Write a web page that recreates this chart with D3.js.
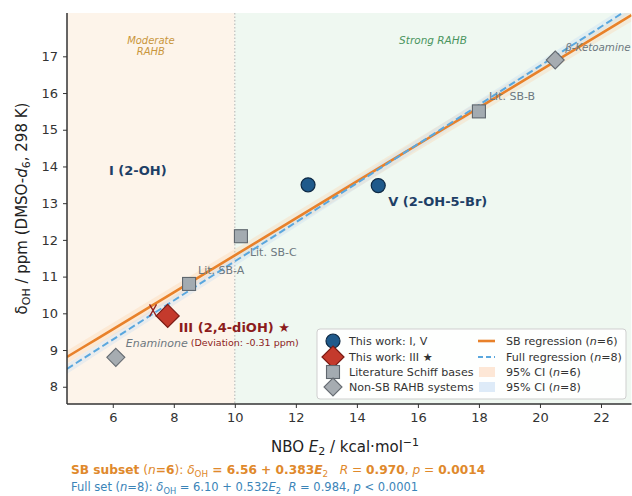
<!DOCTYPE html>
<html><head><meta charset="utf-8">
<script src="https://cdn.jsdelivr.net/npm/d3@7"></script>
<style>
body{margin:0;background:#fff;}
svg{display:block;font-family:"DejaVu Sans",sans-serif;}
</style></head>
<body><svg id="c" width="632" height="496"></svg>
<script>
// ---- data ----
const thisWorkIV = [ {name:"I (2-OH)", x:12.4, y:13.5}, {name:"V (2-OH-5-Br)", x:14.7, y:13.48} ];
const thisWorkIII = [ {name:"III (2,4-diOH) ★", x:7.8, y:9.93} ];
const litSchiff = [ {name:"Lit. SB-A", x:8.5, y:10.8}, {name:"Lit. SB-C", x:10.2, y:12.1}, {name:"Lit. SB-B", x:18.0, y:15.5} ];
const nonSB = [ {name:"Enaminone", x:6.1, y:8.8}, {name:"β-Ketoamine", x:20.5, y:16.9} ];
const predictedMark = [ {x:7.32, y:10.08} ];
const ciHalfWidth = [0.17, 0.13]; // ppm, SB and full (estimated from band)
const xTicks = [6,8,10,12,14,16,18,20,22];
const yTicks = [8,9,10,11,12,13,14,15,16,17];
const regionBoundary = 10;

// ---- layout ----
const svg = d3.select("#c");
const L=67, R=631.5, T=13, B=404;
const x = d3.scaleLinear().domain([4.5,23]).range([L,R]);
const y = d3.scaleLinear().domain([7.53,18.18]).range([B,T]);

function fit(pts){
  const mx=d3.mean(pts,d=>d.x), my=d3.mean(pts,d=>d.y);
  let sxy=0,sxx=0; pts.forEach(d=>{sxy+=(d.x-mx)*(d.y-my); sxx+=(d.x-mx)**2;});
  const b=sxy/sxx; return {a:my-b*mx,b};
}
const sbFit = fit([...thisWorkIV,...thisWorkIII,...litSchiff]);
const fullFit = fit([...thisWorkIV,...thisWorkIII,...litSchiff,...nonSB]);

svg.append("clipPath").attr("id","clip").append("rect").attr("x",L).attr("y",T).attr("width",R-L).attr("height",B-T);
const g = svg.append("g").attr("clip-path","url(#clip)");
g.append("rect").attr("x",L).attr("y",T).attr("width",x(regionBoundary)-L).attr("height",B-T).attr("fill","#fdf4ea");
g.append("rect").attr("x",x(regionBoundary)).attr("y",T).attr("width",R-x(regionBoundary)).attr("height",B-T).attr("fill","#eff8f1");
g.append("line").attr("x1",x(regionBoundary)).attr("x2",x(regionBoundary)).attr("y1",T).attr("y2",B)
  .attr("stroke","#aaa").attr("stroke-width",0.9).attr("stroke-dasharray","1.5,2");

const xs = d3.range(4.5,23.01,0.5);
function band(f,h,color){
  g.append("path").datum(xs).attr("fill",color).attr("opacity",0.35)
   .attr("d",d3.area().x(d=>x(d)).y0(d=>y(f.a+f.b*d-h)).y1(d=>y(f.a+f.b*d+h)));
}
band(sbFit,ciHalfWidth[0],"#fbd3ad");
band(fullFit,ciHalfWidth[1],"#c6def3");
const line = f => d3.line().x(d=>x(d)).y(d=>y(f.a+f.b*d));
g.append("path").datum(xs).attr("d",line(sbFit)).attr("fill","none").attr("stroke","#e8812a").attr("stroke-width",2.6);
g.append("path").datum(xs).attr("d",line(fullFit)).attr("fill","none").attr("stroke","#5aa7de").attr("stroke-width",2).attr("stroke-dasharray","7,3.5");

// region labels
g.append("text").attr("x",(L+x(regionBoundary))/2).attr("y",44).attr("text-anchor","middle").attr("font-size",10).attr("font-style","italic").attr("fill","#c9963c").text("Moderate");
g.append("text").attr("x",(L+x(regionBoundary))/2).attr("y",55).attr("text-anchor","middle").attr("font-size",10).attr("font-style","italic").attr("fill","#c9963c").text("RAHB");
g.append("text").attr("x",433).attr("y",44).attr("text-anchor","middle").attr("font-size",10.5).attr("font-style","italic").attr("fill","#4a9560").text("Strong RAHB");

// markers
const diamond = s => `M0,${-s}L${s},0L0,${s}L${-s},0Z`;
g.selectAll(".sq").data(litSchiff).join("rect").attr("x",d=>x(d.x)-6.5).attr("y",d=>y(d.y)-6.5).attr("width",13).attr("height",13)
  .attr("fill","#a3abb1").attr("stroke","#5f676e").attr("stroke-width",1.1);
g.selectAll(".nd").data(nonSB).join("path").attr("transform",d=>`translate(${x(d.x)},${y(d.y)})`).attr("d",diamond(9))
  .attr("fill","#a6acb1").attr("stroke","#666c72").attr("stroke-width",1.1);
g.selectAll(".ci").data(thisWorkIV).join("circle").attr("cx",d=>x(d.x)).attr("cy",d=>y(d.y)).attr("r",7)
  .attr("fill","#1f5a8b").attr("stroke","#0e2a45").attr("stroke-width",1.2);
g.selectAll(".pm").data(predictedMark).join("path").attr("transform",d=>`translate(${x(d.x)},${y(d.y)})`)
  .attr("d","M-3.5,-6L3.5,6M3.5,-6L-3.5,6").attr("stroke","#8f2020").attr("stroke-width",1.3).attr("fill","none");
g.selectAll(".rd").data(thisWorkIII).join("path").attr("transform",d=>`translate(${x(d.x)},${y(d.y)})`).attr("d",diamond(11.5))
  .attr("fill","#c43a2c").attr("stroke","#7a1b14").attr("stroke-width",1.2);

// point labels
function lab(d,dx,dy,opt){
  const t=g.append("text").attr("x",x(d.x)+dx).attr("y",y(d.y)+dy).attr("dominant-baseline","central")
   .attr("font-size",opt.size).attr("fill",opt.color).text(opt.text||d.name);
  if(opt.bold) t.attr("font-weight","bold");
  if(opt.italic) t.attr("font-style","italic");
}
const gray="#6d7880";
lab(litSchiff[0],9,-13,{size:11,color:gray});
lab(litSchiff[1],9,16,{size:11,color:gray});
lab(litSchiff[2],10,-15,{size:11,color:gray});
lab(nonSB[0],10,-14,{size:11,color:gray,italic:true});
lab(nonSB[1],10,-13,{size:10.3,color:gray,italic:true});
svg.append("text").attr("x",109).attr("y",170).attr("dominant-baseline","central").attr("font-size",13).attr("font-weight","bold").attr("fill","#1d3f66").text(thisWorkIV[0].name);
lab(thisWorkIV[1],10,16,{size:13,color:"#1d3f66",bold:true});
lab(thisWorkIII[0],11,12,{size:13,color:"#8c1c1c",bold:true});
lab(thisWorkIII[0],23,27,{size:9.5,color:"#8c1c1c",text:"(Deviation: -0.31 ppm)"});

// axes
const ax = svg.append("g").attr("transform",`translate(0,${B})`).call(d3.axisBottom(x).tickValues(xTicks).tickSize(4).tickPadding(5));
const ay = svg.append("g").attr("transform",`translate(${L},0)`).call(d3.axisLeft(y).tickValues(yTicks).tickSize(4).tickPadding(5));
[ax,ay].forEach(a=>{a.selectAll("text").attr("font-size",13).attr("fill","#333").attr("font-family","DejaVu Sans");
  a.selectAll("line").attr("stroke","#333").attr("stroke-width",1);
  a.select(".domain").attr("stroke","#333").attr("stroke-width",1.5);});
ay.select(".domain").attr("d",`M0,${B}V${T}`);
ax.select(".domain").attr("d",`M${L},0H${R}`);

// axis titles
const xt = svg.append("text").attr("x",345).attr("y",452).attr("text-anchor","middle").attr("font-size",15).attr("fill","#222");
xt.append("tspan").text("NBO ");
xt.append("tspan").attr("font-style","italic").text("E");
xt.append("tspan").attr("font-size",11).attr("dy",3).text("2");
xt.append("tspan").attr("dy",-3).text(" / kcal·mol");
xt.append("tspan").attr("font-size",11).attr("dy",-6).text("−1");
const yt = svg.append("text").attr("transform",`translate(27,${(T+B)/2}) rotate(-90)`).attr("text-anchor","middle").attr("font-size",15).attr("fill","#222");
yt.append("tspan").text("δ");
yt.append("tspan").attr("font-size",11).attr("dy",3).text("OH");
yt.append("tspan").attr("dy",-3).text(" / ppm (DMSO-");
yt.append("tspan").attr("font-style","italic").text("d");
yt.append("tspan").attr("font-size",11).attr("dy",3).text("6");
yt.append("tspan").attr("dy",-3).text(", 298 K)");

// legend
const lg = svg.append("g");
lg.append("rect").attr("x",317).attr("y",329).attr("width",309).attr("height",70).attr("rx",3)
  .attr("fill","#fff").attr("fill-opacity",0.9).attr("stroke","#cfcfcf");
const rows=[341,357,372,387];
const lt=(xx,yy,parts)=>{const t=lg.append("text").attr("x",xx).attr("y",yy).attr("dominant-baseline","central").attr("font-size",11.1).attr("fill","#333");
  parts.forEach(p=>{const s=t.append("tspan").text(p[0]); if(p[1]) s.attr("font-style","italic");});};
lg.append("circle").attr("cx",333).attr("cy",rows[0]).attr("r",7).attr("fill","#1f5a8b").attr("stroke","#0e2a45").attr("stroke-width",1.2);
lg.append("path").attr("transform",`translate(333,${rows[1]})`).attr("d",diamond(11)).attr("fill","#c43a2c").attr("stroke","#7a1b14").attr("stroke-width",1.2);
lg.append("rect").attr("x",326.5).attr("y",rows[2]-6.5).attr("width",13).attr("height",13).attr("fill","#a3abb1").attr("stroke","#5f676e").attr("stroke-width",1.1);
lg.append("path").attr("transform",`translate(333,${rows[3]})`).attr("d",diamond(9)).attr("fill","#a6acb1").attr("stroke","#666c72").attr("stroke-width",1.1);
lt(349,rows[0],[["This work: I, V"]]);
lt(349,rows[1],[["This work: III ★"]]);
lt(349,rows[2],[["Literature Schiff bases"]]);
lt(349,rows[3],[["Non-SB RAHB systems"]]);
lg.append("line").attr("x1",478).attr("x2",495).attr("y1",rows[0]).attr("y2",rows[0]).attr("stroke","#e8812a").attr("stroke-width",2.6);
lg.append("line").attr("x1",478).attr("x2",495).attr("y1",rows[1]).attr("y2",rows[1]).attr("stroke","#5aa7de").attr("stroke-width",2).attr("stroke-dasharray","5,3");
lg.append("rect").attr("x",479).attr("y",rows[2]-5).attr("width",16).attr("height",10).attr("fill","#fde7d6");
lg.append("rect").attr("x",479).attr("y",rows[3]-5).attr("width",16).attr("height",10).attr("fill","#deebf8");
lt(506,rows[0],[["SB regression ("],["n",1],["=6)"]]);
lt(506,rows[1],[["Full regression ("],["n",1],["=8)"]]);
lt(506,rows[2],[["95% CI ("],["n",1],["=6)"]]);
lt(506,rows[3],[["95% CI ("],["n",1],["=8)"]]);

// footer equations
const NB="\u00a0";
function foot(yy,color,size,parts){
  const t=svg.append("text").attr("x",71).attr("y",yy).attr("font-size",size).attr("fill",color);
  parts.forEach(p=>{const s=t.append("tspan").text(p.t);
    if(p.b) s.attr("font-weight","bold"); if(p.i) s.attr("font-style","italic");
    if(p.sub) s.attr("font-size",size*0.72).attr("dy",2.5); if(p.up) s.attr("dy",-2.5);});
}
foot(474,"#e0892c",12.2,[{t:"SB subset",b:1},{t:" ("},{t:"n",i:1},{t:"=6",b:1},{t:"): "},{t:"δ",i:1},{t:"OH",sub:1},{t:" = 6.56 + 0.383",b:1,up:1},{t:"E",i:1,b:1},{t:"2",sub:1},{t:NB+NB+NB,up:1},{t:"R",i:1},{t:" = "},{t:"0.970",b:1},{t:", "},{t:"p",i:1},{t:" = "},{t:"0.0014",b:1}]);
foot(491,"#3b84b8",11.5,[{t:"Full set ("},{t:"n",i:1},{t:"=8): "},{t:"δ",i:1},{t:"OH",sub:1},{t:" = 6.10 + 0.532",up:1},{t:"E",i:1},{t:"2",sub:1},{t:NB+NB,up:1},{t:"R",i:1},{t:" = 0.984, "},{t:"p",i:1},{t:" < 0.0001"}]);
</script></body></html>
